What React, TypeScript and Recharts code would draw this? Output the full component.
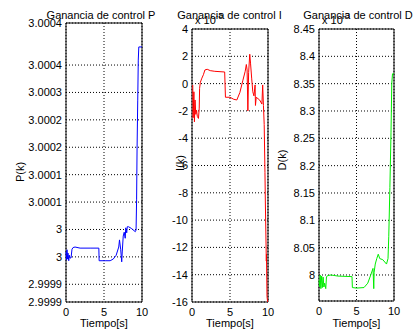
import React from 'react';
import { LineChart, Line, XAxis, YAxis, CartesianGrid, ReferenceArea, Label } from 'recharts';

// Ganancia P (valores absolutos)
const pTime = [0, 0.07, 0.13, 0.2, 0.26, 0.36, 0.44, 0.53, 0.66, 0.79, 0.93, 1.19, 1.85, 3.17, 4.32, 4.36, 5.15, 5.81, 6.21, 6.6, 6.94, 7.04, 7.2, 7.33, 7.4, 7.53, 7.66, 7.79, 7.86, 7.99, 8.06, 8.23, 8.59, 9.12, 9.22, 9.29, 9.35, 9.44, 9.51, 9.58, 10];
const pGain = [2.999959, 2.999944, 2.999963, 2.999946, 2.999957, 2.999943, 2.999953, 2.999948, 2.999948, 2.999964, 2.999967, 2.999968, 2.999966, 2.999966, 2.999966, 2.999943, 2.999943, 2.999943, 2.999946, 2.999953, 2.999968, 2.999981, 2.999963, 2.999941, 2.999959, 2.999988, 2.999995, 2.999984, 3.000003, 2.999994, 3.000005, 3.000005, 3.000002, 2.999996, 2.999999, 3.000054, 3.000145, 3.000236, 3.000309, 3.000333, 3.000333];
const pTicks = [2.9998677, 2.9999, 2.99995, 3, 3.00005, 3.0001, 3.00015, 3.0002, 3.00025, 3.0003, 3.0003767];
const pTickLabels = ['2.9999', '2.9999', '3', '3', '3.0001', '3.0001', '3.0002', '3.0002', '3.0003', '3.0004', '3.0004'];

// Ganancia I (x 10^-5)
const iTime = [0.1, 0.15, 0.25, 0.32, 0.4, 0.5, 0.6, 0.7, 0.85, 0.95, 1.0, 1.1, 1.3, 1.5, 1.7, 2.0, 2.4, 3.0, 4.3, 4.4, 5.0, 5.5, 5.9, 6.3, 6.7, 7.0, 7.15, 7.25, 7.35, 7.45, 7.6, 7.7, 7.85, 8.0, 8.15, 8.3, 8.35, 8.45, 8.9, 9.2, 9.3, 9.4, 9.5, 9.6, 9.65, 9.78, 9.8, 9.87, 9.95];
const iGain = [-0.1, -2.5, -0.6, -2.8, -1.2, -2.25, -1.95, -2.4, -2.55, -1.8, -0.35, 0.1, 0.4, 0.65, 1.0, 1.05, 0.95, 0.9, 0.85, -1.0, -1.0, -1.15, -1.2, -0.65, 0.25, 0.9, 1.4, 1.0, -2.0, 0.8, 2.15, 1.5, 0.4, -0.6, -0.9, -0.1, -1.6, -1.0, -1.2, -1.5, -0.1, -1.6, -3.0, -6.5, -8.6, -13.0, -12.5, -15.6, -16];
const iTicks = [-16, -14, -12, -10, -8, -6, -4, -2, 0, 2, 4];

// Ganancia D (x 10^-3)
const dTime = [0, 0.1, 0.15, 0.25, 0.35, 0.45, 0.55, 0.65, 0.75, 0.9, 1.0, 1.2, 1.6, 2.5, 4.4, 4.45, 5.0, 6.0, 6.5, 6.9, 7.2, 7.3, 7.35, 7.5, 7.7, 7.9, 8.1, 8.5, 9.0, 9.2, 9.3, 9.45, 9.6, 9.7, 9.8, 10];
const dGain = [7.99, 7.978, 8.0, 7.975, 7.998, 7.977, 7.996, 7.978, 7.985, 7.975, 7.997, 7.999, 8.0, 7.998, 7.997, 7.977, 7.976, 7.977, 7.985, 8.0, 8.012, 7.975, 8.005, 8.02, 8.03, 8.038, 8.03, 8.028, 8.02, 8.03, 8.07, 8.16, 8.26, 8.35, 8.368, 8.368];
const dTicks = [8, 8.05, 8.1, 8.15, 8.2, 8.25, 8.3, 8.35, 8.4, 8.45];

const timeTicks = [0, 5, 10];
const FONT = '"Liberation Sans", Arial, sans-serif';
const H = 331;

const toRows = (t: number[], v: number[]) => t.map((x, i) => ({ t: x, v: v[i] }));

type PanelProps = {
  rows: { t: number; v: number }[];
  color: string;
  left: number;
  width: number;
  plotLeft: number;
  plotRight: number;
  plotTop: number;
  plotBottom: number;
  yDomain: [number, number];
  yTicks: number[];
  yLabels?: string[];
};

function GainPanel({ rows, color, left, width, plotLeft, plotRight, plotTop, plotBottom, yDomain, yTicks, yLabels }: PanelProps) {
  const fmt = (v: number) => {
    if (!yLabels) return String(v);
    let best = 0;
    yTicks.forEach((tk, i) => {
      if (Math.abs(tk - v) < Math.abs(yTicks[best] - v)) best = i;
    });
    return yLabels[best];
  };

  return (
    <div style={{ position: 'absolute', left, top: 0 }}>
      <LineChart
        width={width}
        height={H}
        data={rows}
        margin={{ top: plotTop, right: left + width - plotRight, bottom: 0, left: 0 }}
      >
        <CartesianGrid stroke="#000" strokeDasharray="1 2" fill="none" />
        <XAxis
          dataKey="t"
          type="number"
          domain={[0, 10]}
          ticks={timeTicks}
          interval={0}
          height={H - plotBottom}
          axisLine={false}
          tickLine={false}
          tickSize={4}
          tickMargin={2}
          tick={{ fill: '#000', fontSize: 11 }}
        >
          <Label value="Tiempo[s]" position="insideBottom" offset={4} fill="#000" fontSize={11} />
        </XAxis>
        <YAxis
          type="number"
          domain={yDomain}
          ticks={yTicks}
          interval={0}
          allowDataOverflow
          width={plotLeft - left}
          axisLine={false}
          tickLine={false}
          tickSize={2}
          tickMargin={2}
          tick={{ fill: '#000', fontSize: 11 }}
          tickFormatter={fmt}
        />
        <ReferenceArea x1={0} x2={10} y1={yDomain[0]} y2={yDomain[1]} fill="none" stroke="#000" strokeWidth={1} />
        <Line type="linear" dataKey="v" stroke={color} strokeWidth={1} dot={false} isAnimationActive={false} />
      </LineChart>
    </div>
  );
}

const textBase: React.CSSProperties = {
  position: 'absolute',
  fontSize: 11,
  lineHeight: '12px',
  whiteSpace: 'nowrap',
  color: '#000',
};

function Title({ x, y, children }: { x: number; y: number; children: React.ReactNode }) {
  return <div style={{ ...textBase, left: x, top: y - 6, transform: 'translateX(-50%)' }}>{children}</div>;
}

function VLabel({ x, y, children }: { x: number; y: number; children: React.ReactNode }) {
  return (
    <div style={{ ...textBase, left: x, top: y, transform: 'translate(-50%, -50%) rotate(-90deg)' }}>{children}</div>
  );
}

function Exponent({ x, y, power }: { x: number; y: number; power: string }) {
  return (
    <div style={{ ...textBase, left: x, top: y - 6 }}>
      x 10<span style={{ fontSize: 8, position: 'relative', top: -6 }}>{power}</span>
    </div>
  );
}

export default function App() {
  return (
    <div style={{ position: 'absolute', left: 0, top: 0, width: 417, height: H, background: '#fff', fontFamily: FONT }}>
      <GainPanel
        rows={toRows(pTime, pGain)}
        color="#0000ff"
        left={0}
        width={150}
        plotLeft={66}
        plotRight={142}
        plotTop={23}
        plotBottom={302}
        yDomain={[pTicks[0], pTicks[pTicks.length - 1]]}
        yTicks={pTicks}
        yLabels={pTickLabels}
      />
      <GainPanel
        rows={toRows(iTime, iGain)}
        color="#ff0000"
        left={150}
        width={125}
        plotLeft={192}
        plotRight={268}
        plotTop={29}
        plotBottom={302}
        yDomain={[-16, 4]}
        yTicks={iTicks}
      />
      <GainPanel
        rows={toRows(dTime, dGain)}
        color="#00ee00"
        left={275}
        width={142}
        plotLeft={319}
        plotRight={394}
        plotTop={29}
        plotBottom={301}
        yDomain={[7.9524, 8.45]}
        yTicks={dTicks}
      />

      <Title x={101} y={15}>Ganancia de control P</Title>
      <Exponent x={195} y={20} power="-5" />
      <Title x={229.5} y={15}>Ganancia de control I</Title>
      <Exponent x={322} y={20} power="-3" />
      <Title x={358} y={15}>Ganancia de control D</Title>

      <VLabel x={20} y={172}>P(k)</VLabel>
      <VLabel x={180} y={163}>I(k)</VLabel>
      <VLabel x={282} y={160}>D(k)</VLabel>
    </div>
  );
}
